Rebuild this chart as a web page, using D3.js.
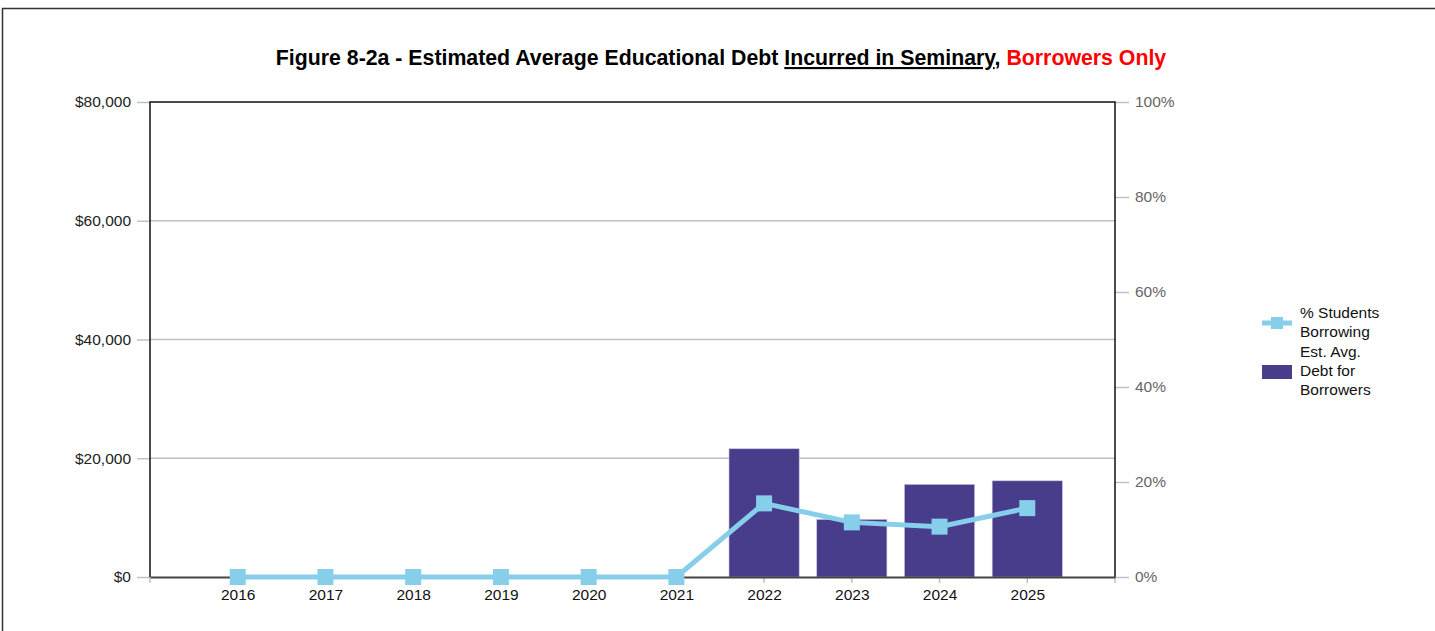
<!DOCTYPE html>
<html>
<head>
<meta charset="utf-8">
<script src="https://cdn.jsdelivr.net/npm/d3@7"></script>
<style>
    body { margin: 0; background: #fff; }
    svg { display: block; font-family: "Liberation Sans", Arial, sans-serif; }
</style>
</head>
<body>
<div id="chart"></div>
<script>

// chart data
const years = ['2016', '2017', '2018', '2019', '2020', '2021', '2022', '2023', '2024', '2025'];
const avgDebt = [0, 0, 0, 0, 0, 0, 21600, 9700, 15600, 16200];
const pctBorrowing = [0, 0, 0, 0, 0, 0, 0.155, 0.115, 0.106, 0.145];
const debtTicks = [0, 20000, 40000, 60000, 80000];
const pctTicks = [0, 0.2, 0.4, 0.6, 0.8, 1.0];

const barColor = '#483d8b';
const lineColor = '#87ceeb';
const fontSize = '15.5px';

const width = 1435, height = 631;
const margin = {top: 102, right: 320, bottom: 54, left: 150};
const innerW = width - margin.left - margin.right;
const innerH = height - margin.top - margin.bottom;

let svg = d3.select('#chart').append('svg')
    .attr('width', width)
    .attr('height', height);

// outer frame
svg.append('rect')
    .attr('x', 2.5).attr('y', 8.5)
    .attr('width', width + 10).attr('height', height + 10)
    .attr('fill', 'none')
    .attr('stroke', '#333')
    .attr('stroke-width', 1.5);

// title
let title = svg.append('text')
    .attr('x', 721).attr('y', 65)
    .attr('text-anchor', 'middle')
    .style('font-size', '21.3px')
    .style('font-weight', 'bold');
title.append('tspan').text('Figure 8-2a - Estimated Average Educational Debt ');
title.append('tspan').attr('text-decoration', 'underline').text('Incurred in Seminary');
title.append('tspan').text(', ');
title.append('tspan').attr('fill', '#ff0000').text('Borrowers Only');

let g = svg.append('g')
    .attr('transform', `translate(${margin.left}, ${margin.top})`);

// scales
let x = d3.scalePoint()
    .domain(years)
    .range([0, innerW])
    .padding(1);

let yDebt = d3.scaleLinear()
    .domain([0, 80000])
    .range([innerH, 0]);

let yPct = d3.scaleLinear()
    .domain([0, 1])
    .range([innerH, 0]);

// gridlines
g.append('g')
    .selectAll('line')
    .data(debtTicks.slice(1, -1))
    .enter().append('line')
    .attr('x1', 0).attr('x2', innerW)
    .attr('y1', d => yDebt(d)).attr('y2', d => yDebt(d))
    .attr('stroke', '#c0c0c0')
    .attr('stroke-width', 1.5);

// left axis
let leftAxis = g.append('g')
    .call(d3.axisLeft(yDebt).tickValues(debtTicks).tickSize(13).tickPadding(6)
        .tickFormat(d => '$' + d3.format(',')(d)));
leftAxis.select('.domain').remove();
leftAxis.selectAll('.tick line').attr('stroke', '#c0c0c0').attr('stroke-width', 1.5);
leftAxis.selectAll('.tick text')
    .style('font-size', fontSize).attr('fill', '#222')
    .style('font-family', '"Liberation Sans", Arial, sans-serif');

// right axis
let rightAxis = g.append('g')
    .attr('transform', `translate(${innerW}, 0)`)
    .call(d3.axisRight(yPct).tickValues(pctTicks).tickSize(14).tickPadding(6)
        .tickFormat(d3.format('.0%')));
rightAxis.select('.domain').remove();
rightAxis.selectAll('.tick line').attr('stroke', '#c0c0c0').attr('stroke-width', 1.5);
rightAxis.selectAll('.tick text')
    .style('font-size', fontSize).attr('fill', '#666')
    .style('font-family', '"Liberation Sans", Arial, sans-serif');

// bars
let bw = x.step() * 0.8;
g.selectAll('rect.bar')
    .data(years.map((d, i) => ({year: d, value: avgDebt[i]})).filter(d => d.value > 0))
    .enter().append('rect')
    .attr('class', 'bar')
    .attr('x', d => x(d.year) - bw / 2)
    .attr('y', d => yDebt(d.value))
    .attr('width', bw)
    .attr('height', d => innerH - yDebt(d.value))
    .attr('fill', barColor)
    .attr('stroke', '#c8c4dc')
    .attr('stroke-width', 0.6);

// plot frame (left, top, right)
g.append('path')
    .attr('d', `M0,${innerH}V0H${innerW}V${innerH}`)
    .attr('fill', 'none')
    .attr('stroke', '#111')
    .attr('stroke-width', 1.5);

// bottom axis
let xTicks = [0].concat(years.map(d => x(d))).concat([innerW]);
g.append('g')
    .selectAll('line')
    .data(xTicks)
    .enter().append('line')
    .attr('x1', d => d).attr('x2', d => d)
    .attr('y1', innerH).attr('y2', innerH + 6)
    .attr('stroke', '#c0c0c0')
    .attr('stroke-width', 1.5);

let bottomAxis = g.append('g')
    .attr('transform', `translate(0, ${innerH})`)
    .call(d3.axisBottom(x).tickSize(0).tickPadding(12));
bottomAxis.select('.domain').attr('stroke', '#444').attr('stroke-width', 2);
bottomAxis.selectAll('.tick text')
    .style('font-size', fontSize).attr('fill', '#111')
    .style('font-family', '"Liberation Sans", Arial, sans-serif');

// line
let lineData = years.map((d, i) => ({year: d, value: pctBorrowing[i]}));
g.append('path')
    .datum(lineData)
    .attr('fill', 'none')
    .attr('stroke', lineColor)
    .attr('stroke-width', 5)
    .attr('d', d3.line().x(d => x(d.year)).y(d => yPct(d.value)));

g.selectAll('rect.marker')
    .data(lineData)
    .enter().append('rect')
    .attr('class', 'marker')
    .attr('x', d => x(d.year) - 8)
    .attr('y', d => yPct(d.value) - 8)
    .attr('width', 16)
    .attr('height', 16)
    .attr('fill', lineColor);

// legend
let legend = svg.append('g')
    .attr('transform', 'translate(1262, 0)');

legend.append('line')
    .attr('x1', 0).attr('x2', 30)
    .attr('y1', 323).attr('y2', 323)
    .attr('stroke', lineColor).attr('stroke-width', 5);
legend.append('rect')
    .attr('x', 9).attr('y', 317).attr('width', 12).attr('height', 12)
    .attr('fill', lineColor);
legend.append('rect')
    .attr('x', 0).attr('y', 365).attr('width', 30).attr('height', 14)
    .attr('fill', barColor);

let legendLines = [['% Students', 318], ['Borrowing', 337], ['Est. Avg.', 357], ['Debt for', 376], ['Borrowers', 395]];
legend.selectAll('text')
    .data(legendLines)
    .enter().append('text')
    .attr('x', 38)
    .attr('y', d => d[1])
    .style('font-size', fontSize)
    .attr('fill', '#111')
    .text(d => d[0]);

</script>
</body>
</html>
